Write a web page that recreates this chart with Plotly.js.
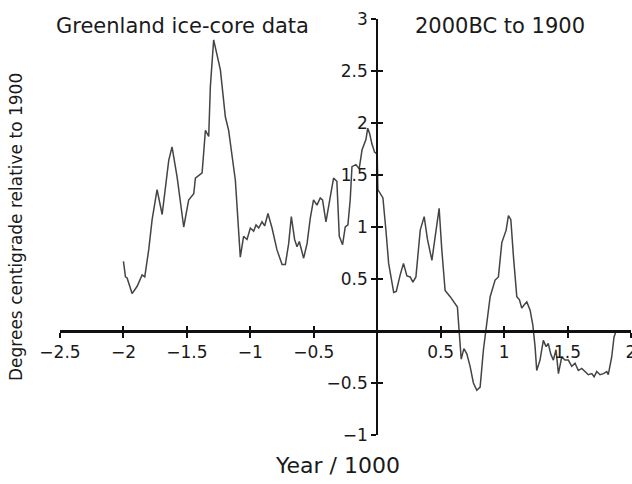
<!DOCTYPE html>
<html>
<head>
<meta charset="utf-8">
<script src="https://cdn.plot.ly/plotly-3.0.1.min.js"></script>
<style>html,body{margin:0;padding:0;background:#fff;}#chart{width:632px;height:484px;}</style>
</head>
<body>
<div id="chart"></div>
<script>
// Year / 1000 (negative = BC)
const years = [
 -2.0,-1.984,-1.971,-1.932,-1.892,-1.853,-1.832,-1.801,-1.774,-1.735,-1.695,-1.643,-1.617,-1.577,-1.525,-1.486,-1.446,-1.433,-1.380,-1.354,
 -1.328,-1.315,-1.289,-1.236,-1.197,-1.171,-1.118,-1.079,-1.053,-1.026,-1.0,-0.974,-0.955,-0.934,-0.908,-0.887,-0.861,-0.829,-0.790,-0.750,
 -0.724,-0.698,-0.677,-0.651,-0.632,-0.614,-0.580,-0.553,-0.528,-0.502,-0.475,-0.449,-0.431,-0.404,-0.370,-0.344,-0.318,-0.299,-0.273,-0.252,
 -0.231,-0.213,-0.199,-0.168,-0.142,-0.120,-0.089,-0.075,-0.060,-0.042,-0.021,0.0,0.005,0.045,0.07,0.09,0.13,0.150,0.181,0.207,
 0.234,0.260,0.281,0.305,0.339,0.370,0.396,0.431,0.457,0.488,0.509,0.535,0.575,0.632,0.645,0.662,0.683,0.706,0.732,0.758,
 0.785,0.811,0.837,0.864,0.890,0.929,0.955,0.982,1.0,1.016,1.034,1.053,1.074,1.100,1.121,1.139,1.157,1.179,1.205,1.226,
 1.244,1.257,1.283,1.309,1.331,1.348,1.367,1.388,1.409,1.428,1.454,1.480,1.506,1.533,1.559,1.585,1.612,1.638,1.664,1.691,
 1.709,1.730,1.756,1.783,1.809,1.821,1.848,1.866,1.882
];
// Degrees centigrade relative to 1900
const temps = [
 0.67,0.52,0.51,0.36,0.43,0.54,0.52,0.78,1.07,1.36,1.12,1.64,1.77,1.48,1.00,1.26,1.32,1.47,1.52,1.93,
 1.87,2.35,2.80,2.51,2.06,1.93,1.45,0.71,0.91,0.88,0.99,0.96,1.02,0.99,1.05,1.01,1.13,0.99,0.78,0.64,
 0.64,0.84,1.10,0.88,0.81,0.86,0.70,0.84,1.08,1.26,1.21,1.28,1.26,1.05,1.29,1.47,1.44,0.91,0.83,1.00,
 1.02,1.26,1.58,1.60,1.56,1.74,1.84,1.95,1.90,1.80,1.72,1.70,1.36,1.28,0.95,0.65,0.37,0.38,0.54,0.65,
 0.53,0.52,0.47,0.52,0.97,1.10,0.88,0.68,0.91,1.18,0.78,0.39,0.33,0.23,0.01,-0.27,-0.17,-0.22,-0.34,-0.50,
 -0.57,-0.54,-0.18,0.11,0.33,0.49,0.52,0.85,0.91,0.97,1.11,1.07,0.71,0.33,0.30,0.22,0.25,0.28,0.20,0.06,
 -0.15,-0.38,-0.28,-0.09,-0.15,-0.12,-0.22,-0.28,-0.18,-0.41,-0.25,-0.28,-0.28,-0.34,-0.31,-0.38,-0.36,-0.39,-0.42,-0.41,
 -0.44,-0.39,-0.42,-0.41,-0.39,-0.42,-0.25,-0.06,0.0
];

const xRange = [-2.5, 2];
const yRange = [-1, 3];
const xTickVals = [-2.5,-2,-1.5,-1,-0.5,0.5,1,1.5,2];
const xTickText = ["\u22122.5","\u22122","\u22121.5","\u22121","\u22120.5","0.5","1","1.5","2"];
const yTickVals = [-1,-0.5,0.5,1,1.5,2,2.5,3];
const yTickText = ["\u22121","\u22120.5","0.5","1","1.5","2","2.5","3"];

const W = 632, H = 484;
const m = {l:60, r:1, t:19, b:49};
const pw = W - m.l - m.r, ph = H - m.t - m.b;
const px = v => (v - m.l) / pw;
const py = v => (H - m.b - v) / ph;

const xPos = (0 - yRange[0]) / (yRange[1] - yRange[0]);
const yPos = (0 - xRange[0]) / (xRange[1] - xRange[0]);

const font = "DejaVu Sans, Arial, sans-serif";
const ink = "#111";
const txt = "#1a1a1a";

const baseX = {range:xRange, anchor:'free', position:xPos, showgrid:false, zeroline:false,
  showline:true, linecolor:ink, linewidth:3, tickvals:xTickVals, ticktext:xTickText,
  ticklen:5, tickwidth:2, tickcolor:ink, fixedrange:true, ticklabeloverflow:'allow',
  tickfont:{family:font, size:17, color:txt}};
const baseY = {range:yRange, anchor:'free', position:yPos, showgrid:false, zeroline:false,
  showline:true, linecolor:ink, linewidth:2, tickvals:yTickVals, ticktext:yTickText,
  ticklen:5, tickwidth:2, tickcolor:ink, fixedrange:true, ticklabeloverflow:'allow',
  tickfont:{family:font, size:17, color:txt}};

const layout = {
  width:W, height:H, margin:m, paper_bgcolor:'#fff', plot_bgcolor:'#fff', showlegend:false,
  xaxis: Object.assign({}, baseX, {ticks:'outside'}),
  yaxis: Object.assign({}, baseY, {ticks:'outside'}),
  xaxis2: Object.assign({}, baseX, {overlaying:'x', ticks:'inside', showticklabels:false, showline:false}),
  yaxis2: Object.assign({}, baseY, {overlaying:'y', ticks:'inside', showticklabels:false, showline:false}),
  annotations:[
    {text:"Greenland ice-core data", xref:'paper', yref:'paper', x:px(182), y:py(26), xanchor:'center', yanchor:'middle', showarrow:false, font:{family:font, size:21, color:txt}},
    {text:"2000BC to 1900", xref:'paper', yref:'paper', x:px(500), y:py(26), xanchor:'center', yanchor:'middle', showarrow:false, font:{family:font, size:21, color:txt}},
    {text:"Degrees centigrade relative to 1900", xref:'paper', yref:'paper', x:px(16), y:py(227), xanchor:'center', yanchor:'middle', textangle:-90, showarrow:false, font:{family:font, size:17, color:txt}},
    {text:"Year / 1000", xref:'paper', yref:'paper', x:px(337), y:py(465), xanchor:'center', yanchor:'middle', showarrow:false, font:{family:font, size:22, color:txt}}
  ]
};

const data = [
  {x:years, y:temps, type:'scatter', mode:'lines', line:{color:'#444', width:1.5}, hoverinfo:'x+y'},
  {x:[], y:[], type:'scatter', mode:'lines', xaxis:'x2', yaxis:'y2', hoverinfo:'skip'}
];

Plotly.newPlot('chart', data, layout, {displayModeBar:false, staticPlot:true});
</script>
</body>
</html>
